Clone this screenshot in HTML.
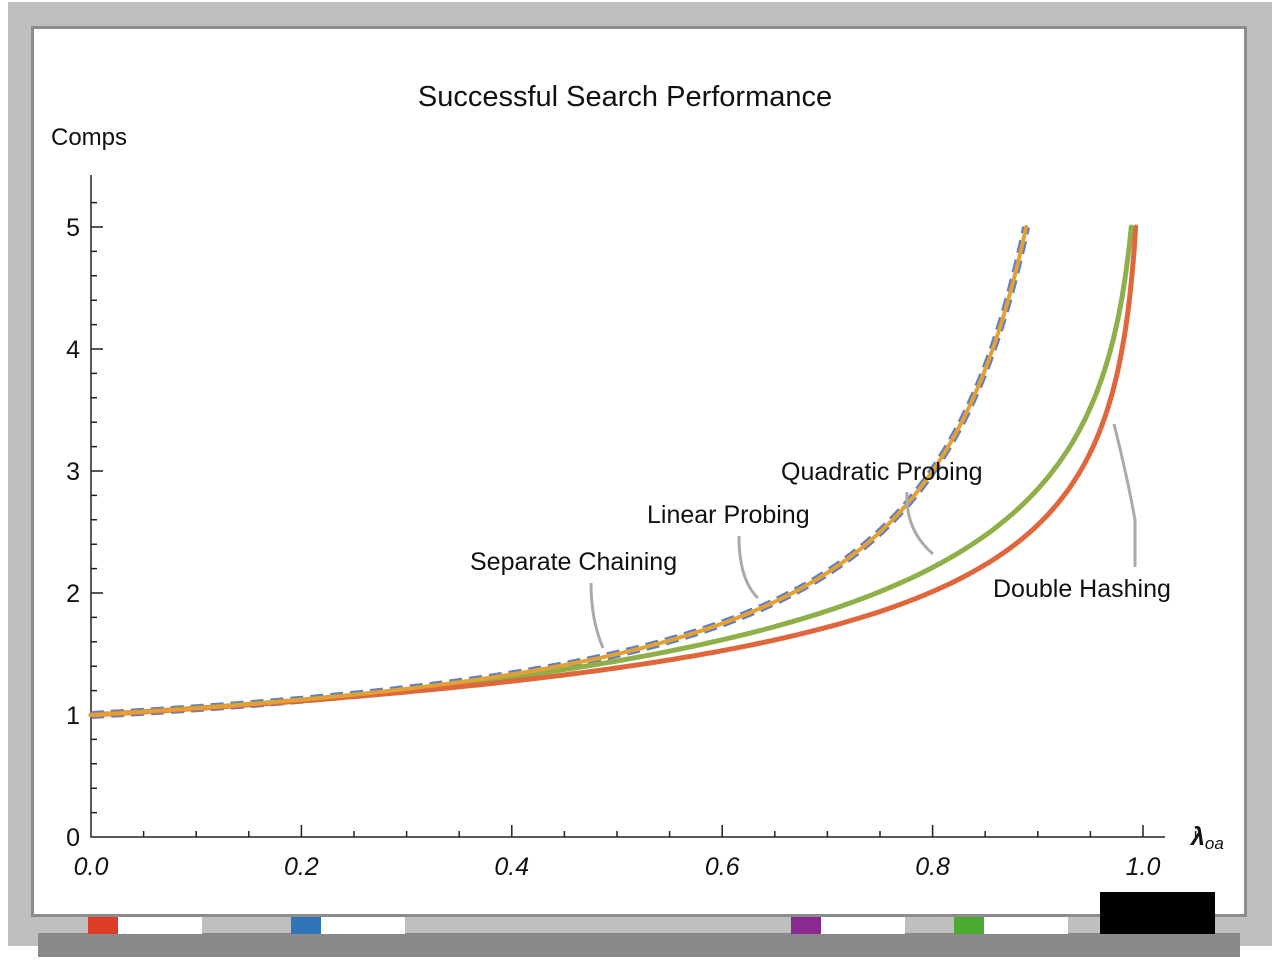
<!DOCTYPE html>
<html><head><meta charset="utf-8"><style>
body{margin:0;width:1280px;height:960px;background:#fff;overflow:hidden}
svg{display:block}
text{font-family:"Liberation Sans",sans-serif;fill:#111}
</style></head><body>
<svg id="s" width="1280" height="960" xmlns="http://www.w3.org/2000/svg">
<rect x="0" y="0" width="1280" height="960" fill="#fff"/>
<rect x="8" y="2" width="1264" height="944" fill="#bfbfbf"/>
<rect x="31" y="26" width="1216" height="891" fill="#8c8c8c"/>
<rect x="34" y="29" width="1210" height="885" fill="#fff"/>
<rect x="38" y="933" width="1202" height="24" fill="#8a8a8a"/>
<rect x="88" y="917" width="30" height="17" fill="#dc3c28"/><rect x="118" y="917" width="84" height="17" fill="#fff"/>
<rect x="291" y="917" width="30" height="17" fill="#2f75b8"/><rect x="321" y="917" width="84" height="17" fill="#fff"/>
<rect x="791" y="917" width="30" height="17" fill="#8a2a90"/><rect x="821" y="917" width="84" height="17" fill="#fff"/>
<rect x="954" y="917" width="30" height="17" fill="#4caa32"/><rect x="984" y="917" width="84" height="17" fill="#fff"/>
<rect x="1100" y="892" width="115" height="42" fill="#000"/>
<text x="625" y="106" font-size="29" text-anchor="middle">Successful Search Performance</text>
<text x="51" y="145" font-size="24">Comps</text>
<g id="ax" stroke="#222" stroke-width="1.5" fill="none"></g>
<g id="labs" font-size="25"></g>
<g id="cur" fill="none"></g>
<g stroke="#aaa" stroke-width="3" fill="none">
<path d="M591 583 Q591 620 603 648"/>
<path d="M739 536 Q739 580 758 598"/>
<path d="M907 492 Q905 530 933 554"/>
<path d="M1114 424 Q1128 480 1135 520 L1135 567"/>
</g>
<g font-size="25">
<text x="470" y="570">Separate Chaining</text>
<text x="647" y="523">Linear Probing</text>
<text x="781" y="480">Quadratic Probing</text>
<text x="993" y="597">Double Hashing</text>
<text x="1191" y="845" font-style="italic" font-weight="bold">λ<tspan font-size="17" font-weight="normal" dy="4">oa</tspan></text>
</g>
</svg>
<script>
const X=l=>91+1052*l, Y=v=>837-122*v;
const ax=document.getElementById('ax'),labs=document.getElementById('labs'),cur=document.getElementById('cur');
let d='M91 175 L91 837 L1165 837';
for(let i=0;i<=21;i++){const x=91+52.6*i;d+=`M${x} 837 L${x} ${i%4==0?825:831}`;}
for(let v=0;v<=5.4;v+=0.2){const y=Y(v);const maj=Math.abs(v-Math.round(v))<0.01;d+=`M91 ${y} L${maj?103:97} ${y}`;}
ax.innerHTML=`<path d="${d}"/>`;
let h='';
for(let i=0;i<=5;i++)h+=`<text x="80" y="${Y(i)+9}" text-anchor="end">${i}</text>`;
for(let i=0;i<=5;i++)h+=`<text x="${X(i*0.2)}" y="875" text-anchor="middle" font-style="italic">${(i*0.2).toFixed(1)}</text>`;
labs.innerHTML=h;
function path(f,lmax){let p='';const n=300;for(let i=0;i<=n;i++){const l=0.0001+(lmax-0.0001)*(1-Math.pow(1-i/n,1.6));p+=(i?'L':'M')+X(l).toFixed(1)+' '+Y(f(l)).toFixed(1);}return p;}
const lp=l=>0.5*(1+1/(1-l));
const qp=l=>1-Math.log(1-l)-l/2;
const dh=l=>-Math.log(1-l)/l;
function solve(f){let a=0.1,b=0.99999;for(let k=0;k<60;k++){const m=(a+b)/2;if(f(m)<5)a=m;else b=m;}return a;}
cur.innerHTML=
`<path d="${path(lp,solve(lp))}" stroke="#5f7fc0" stroke-width="8" stroke-dasharray="13 7" stroke-linecap="butt"/>`+
`<path d="${path(qp,solve(qp))}" stroke="#8fb048" stroke-width="5" stroke-linecap="round"/>`+
`<path d="${path(dh,solve(dh))}" stroke="#e0663c" stroke-width="5" stroke-linecap="round"/>`+
`<path d="${path(lp,solve(lp))}" stroke="#e3a035" stroke-width="4" stroke-linecap="round"/>`;
</script>
</body></html>
